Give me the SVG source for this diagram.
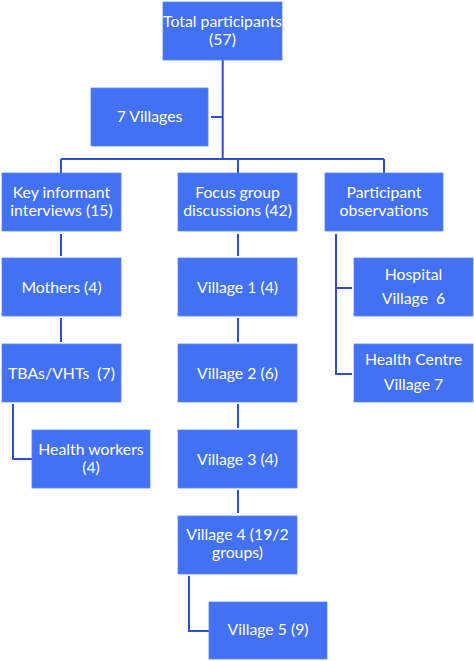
<svg xmlns="http://www.w3.org/2000/svg" width="474" height="661" viewBox="0 0 474 661">
<style>
.box{fill:#4271f3;stroke:#5a84f5;stroke-width:0.8}
.t{font-family:Lato,"Liberation Sans",sans-serif;font-size:15.8px;fill:#ffffff;text-anchor:middle}
.c{fill:none;stroke:#2f4fcf;stroke-width:2}
</style>
<rect width="474" height="661" fill="#ffffff"/>
<g id="connectors">
<path class="c" d="M222.7,60V159M211,117H222.7M61,159H384M61,159V173M238,159V173M384,159V173"/>
<path class="c" d="M61,234V256M61,318V342M238,234V256M238,318V342M238,404V428M238,490V513"/>
<path class="c" d="M336,234V374H352M336,288H352"/>
<path class="c" d="M13,404V459H32"/>
<path class="c" d="M189,576V631H209"/>
</g>
<g id="total"><rect class="box" x="163" y="2" width="119" height="58"/><text class="t" x="222.5" y="27">Total participants</text><text class="t" x="222.5" y="45">(57)</text></g>
<g id="villages7"><rect class="box" x="91" y="88" width="117" height="58"/><text class="t" x="149.5" y="122">7 Villages</text></g>
<g id="ki"><rect class="box" x="2" y="173" width="119" height="58"/><text class="t" x="61.5" y="198">Key informant</text><text class="t" x="61.5" y="216">interviews (15)</text></g>
<g id="fgd"><rect class="box" x="178" y="173" width="119" height="58"/><text class="t" x="237.5" y="198">Focus group</text><text class="t" x="237.5" y="216">discussions (42)</text></g>
<g id="po"><rect class="box" x="325" y="173" width="118" height="58"/><text class="t" x="384" y="198">Participant</text><text class="t" x="384" y="216">observations</text></g>
<g id="mothers"><rect class="box" x="2" y="258" width="119" height="58"/><text class="t" x="61.5" y="293">Mothers (4)</text></g>
<g id="tbas"><rect class="box" x="2" y="344" width="119" height="58"/><text class="t" x="61.5" y="379">TBAs/VHTs&#160; (7)</text></g>
<g id="hw"><rect class="box" x="32" y="430" width="118" height="58"/><text class="t" x="91" y="455">Health workers</text><text class="t" x="91" y="473">(4)</text></g>
<g id="v1"><rect class="box" x="178" y="258" width="119" height="58"/><text class="t" x="237.5" y="293">Village 1 (4)</text></g>
<g id="v2"><rect class="box" x="178" y="344" width="119" height="58"/><text class="t" x="237.5" y="379">Village 2 (6)</text></g>
<g id="v3"><rect class="box" x="178" y="430" width="119" height="58"/><text class="t" x="237.5" y="465">Village 3 (4)</text></g>
<g id="v4"><rect class="box" x="178" y="516" width="119" height="58"/><text class="t" x="237.5" y="540">Village 4 (19/2</text><text class="t" x="237.5" y="558">groups)</text></g>
<g id="v5"><rect class="box" x="209" y="602" width="118" height="57"/><text class="t" x="268" y="635">Village 5 (9)</text></g>
<g id="hospital"><rect class="box" x="354" y="258" width="119" height="58"/><text class="t" x="413.5" y="280">Hospital</text><text class="t" x="413.5" y="304">Village&#160; 6</text></g>
<g id="hc"><rect class="box" x="354" y="344" width="119" height="58"/><text class="t" x="413.5" y="365">Health Centre</text><text class="t" x="413.5" y="390">Village 7</text></g>
</svg>
